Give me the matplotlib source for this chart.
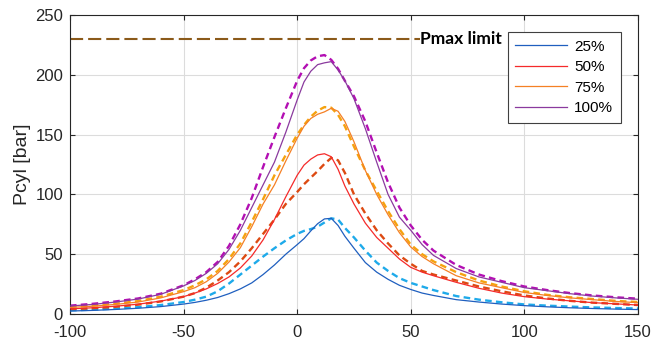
import matplotlib.pyplot as plt

plt.rcParams['font.family'] = ['Liberation Sans', 'DejaVu Sans']
plt.rcParams['axes.unicode_minus'] = False

# crank angle [deg]
angle = [-100, -90, -80, -70, -60, -50, -45, -40, -35, -30, -25, -20, -15, -10, -5,
         0, 3, 6, 9, 12, 15, 18, 21, 25, 30, 35, 40, 45, 50, 55, 60,
         70, 80, 90, 100, 110, 120, 130, 140, 150]

# cylinder pressure [bar], solid = measured, dashed = simulated
p25 = [2.5, 3, 3.8, 4.8, 6.2, 8.3, 9.7, 11.5, 13.8, 17, 21, 26, 33, 41, 50,
       58, 63, 69.5, 75.5, 79.5, 80, 74, 65, 55, 43, 35, 29, 24, 20.5, 17.5, 15.5,
       12, 10, 8.3, 7, 6, 5.2, 4.6, 4.1, 3.7]
p25_sim = [3, 3.6, 4.5, 5.7, 7.5, 10, 12, 14.5, 19, 25.5, 33, 40.5, 48, 55, 61.5,
           67, 69.5, 71, 73, 76.5, 80, 79, 72, 64, 53, 43, 36, 30, 26, 23, 20,
           15, 12, 9.8, 8, 7, 6.2, 5.5, 5, 4.6]

p50 = [4.3, 5.2, 6.5, 8.2, 10.8, 14.5, 17.5, 21, 25.5, 31, 38.5, 48.5, 62, 79, 98,
       116, 124.5, 129.5, 133, 134, 131.5, 121, 107, 92, 76, 64, 55, 46, 39, 35, 32,
       26.5, 21.5, 17.5, 14.5, 12.5, 11, 9.5, 8.5, 7.5]
p50_sim = [4, 4.8, 6, 7.8, 10.5, 14.5, 17.5, 22, 28, 35, 44, 55, 67, 79, 92,
           102, 108.5, 114, 119.5, 125.5, 130.5, 128.5, 118, 100, 84, 70, 59, 49, 42, 36, 33,
           28, 23, 19, 15.5, 13, 11, 9.5, 8.5, 7.5]

p75 = [5.5, 6.5, 8, 10, 13.5, 18.7, 22, 27, 34, 43.5, 55.5, 73, 92, 108, 128,
       147, 157, 163.5, 167, 169, 172, 169.5, 161, 144, 120, 100, 83, 68, 56, 48, 42,
       32, 26, 22, 18, 15.5, 13.5, 12, 10.5, 9.5]
p75_sim = [6, 7, 8.6, 10.8, 14.5, 20, 24, 29, 36, 46, 59, 77, 96, 116, 133,
           150, 158, 165, 170, 173, 172.5, 166.5, 157, 140, 120, 103, 86, 71, 58, 50, 44,
           35, 28, 23, 19, 16, 14, 12.5, 11, 10]

p100 = [6.7, 8, 10, 12.5, 16.5, 23.5, 28, 34, 42, 54, 70, 89, 108, 127, 152,
        179, 194, 203, 208.5, 210, 211, 204, 195, 180, 155, 127, 100, 81, 70, 58, 49,
        38, 31, 26.5, 22, 19.5, 17, 15, 13.5, 12.3]
p100_sim = [7, 8.5, 10.5, 13, 17, 24, 29, 35, 43.5, 57, 75, 97, 123, 148, 172,
            195, 205.5, 212, 215.5, 216.5, 212.5, 205, 195, 182, 161, 135, 110, 89, 74, 62, 53,
            41, 33, 27.5, 23, 20, 17.5, 15.5, 14, 12.8]

loads = ['25%', '50%', '75%', '100%']
pmax_limit = 230
pmax_end = 54

solid_colors = ['#1f5fbf', '#f52a2a', '#f58025', '#8a3a9e']
dash_colors = ['#1eaaea', '#dd4a12', '#f5a20f', '#b30fb3']

fig = plt.figure(figsize=(6.54, 3.48), dpi=100)
ax = fig.add_axes([0.107, 0.0977, 0.8685, 0.8592])

measured = [p25, p50, p75, p100]
simulated = [p25_sim, p50_sim, p75_sim, p100_sim]

for i in range(4):
    ax.plot(angle, measured[i], color=solid_colors[i], lw=0.9, label=loads[i], zorder=3)
    ax.plot(angle, simulated[i], color=dash_colors[i], lw=1.7,
            dashes=(2.8, 1.8), zorder=2)

ax.plot([angle[0], pmax_end], [pmax_limit, pmax_limit], color='#8b5a1a',
        lw=1.5, dashes=(6.3, 2.4), zorder=2)
ax.text(pmax_end, pmax_limit, 'Pmax limit', fontsize=12.5, fontweight='bold',
        family=['Lato', 'DejaVu Sans'], ha='left', va='center', color='black')

ax.set_xlim(-100, 150)
ax.set_ylim(0, 250)
ax.set_xticks([-100, -50, 0, 50, 100, 150])
ax.set_yticks([0, 50, 100, 150, 200, 250])
ax.grid(True, color='#dcdcdc', lw=0.8)
ax.set_axisbelow(True)
ax.tick_params(direction='in', top=True, right=True, length=3.5, width=0.8,
               labelsize=12, colors='#262626', pad=5)
ax.tick_params(axis='x', pad=8)
for s in ax.spines.values():
    s.set_color('#262626')
    s.set_linewidth(0.8)

ax.set_ylabel('Pcyl [bar]', fontsize=14, color='#262626', labelpad=3)

leg = ax.legend(loc='upper right', bbox_to_anchor=(0.970, 0.943), borderaxespad=0,
                fontsize=11, handlelength=3.4, handletextpad=0.45, labelspacing=0.42,
                borderpad=0.5, fancybox=False, framealpha=1, edgecolor='#404040')
leg.get_frame().set_linewidth(0.8)

plt.savefig('out.png', dpi=100)
